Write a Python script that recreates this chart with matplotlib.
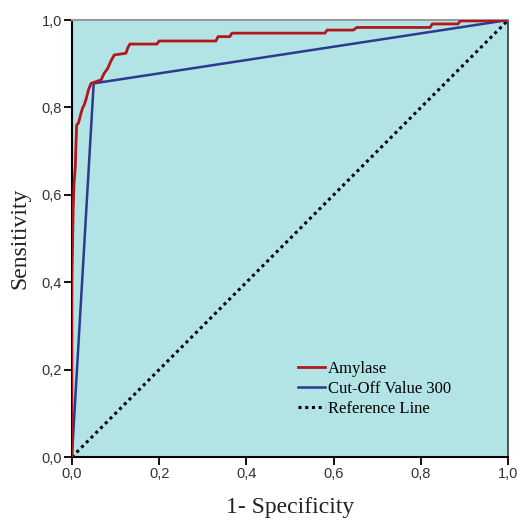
import matplotlib
matplotlib.use("Agg")
import matplotlib.pyplot as plt
from matplotlib.ticker import FuncFormatter

# ROC curve for Amylase (1 - specificity, sensitivity)
amylase_fpr = [0.0, 0.0, 0.003, 0.005, 0.008, 0.009, 0.011, 0.015, 0.021, 0.025, 0.028,
               0.032, 0.038, 0.044, 0.067, 0.074, 0.082, 0.089, 0.097, 0.124, 0.128,
               0.133, 0.195, 0.200, 0.330, 0.335, 0.362, 0.367, 0.580, 0.585, 0.645,
               0.653, 0.821, 0.826, 0.885, 0.890, 0.950, 1.0]
amylase_tpr = [0.0, 0.40, 0.565, 0.627, 0.664, 0.702, 0.760, 0.764, 0.787, 0.800, 0.805,
               0.817, 0.840, 0.855, 0.863, 0.878, 0.889, 0.905, 0.920, 0.924, 0.936,
               0.945, 0.945, 0.952, 0.952, 0.962, 0.962, 0.970, 0.970, 0.977, 0.977,
               0.983, 0.983, 0.991, 0.991, 0.998, 0.998, 1.0]

# Cut-off value 300 (single operating point)
cutoff_fpr = [0.0, 0.050, 1.0]
cutoff_tpr = [0.0, 0.855, 1.0]

# Reference line
ref_fpr = [0.0, 1.0]
ref_tpr = [0.0, 1.0]

ticks = [0.0, 0.2, 0.4, 0.6, 0.8, 1.0]
labels = ["Amylase", "Cut-Off Value 300", "Reference Line"]

fig = plt.figure(figsize=(5.17, 5.20), dpi=100)
ax = fig.add_axes([0.139, 0.121, 0.844, 0.8405])
ax.set_facecolor("#b2e4e6")

ax.plot(ref_fpr, ref_tpr, color="black", linestyle=(0, (1, 1.2)), linewidth=2.2,
        label=labels[2], zorder=2)
ax.plot(cutoff_fpr, cutoff_tpr, color="#2e3a8c", linewidth=1.8, label=labels[1], zorder=3)
ax.plot(amylase_fpr, amylase_tpr, color="#b3161c", linewidth=2.0, label=labels[0], zorder=4)

ax.set_xlim(0, 1)
ax.set_ylim(0, 1)
ax.set_xticks(ticks)
ax.set_yticks(ticks)
fmt = FuncFormatter(lambda v, p: f"{v:.1f}".replace(".", ","))
ax.xaxis.set_major_formatter(fmt)
ax.yaxis.set_major_formatter(fmt)
ax.tick_params(axis="both", direction="out", length=6, width=1.3, labelsize=10.5,
               labelcolor="#333333", pad=1)
for lab in ax.get_xticklabels() + ax.get_yticklabels():
    lab.set_family("Liberation Sans")

for s in ["left", "bottom"]:
    ax.spines[s].set_color("black")
    ax.spines[s].set_linewidth(1.5)
ax.spines["top"].set_color("#999999")
ax.spines["top"].set_linewidth(1.5)
ax.spines["right"].set_color("#444444")
ax.spines["right"].set_linewidth(1.3)

ax.set_xlabel("1- Specificity", family="Liberation Serif", fontsize=17, labelpad=12,
              color="#222222")
ax.set_ylabel("Sensitivity", family="Liberation Serif", fontsize=17, labelpad=8,
              color="#222222")

handles, labs = ax.get_legend_handles_labels()
order = [labs.index(l) for l in labels]
leg = ax.legend([handles[i] for i in order], [labs[i] for i in order],
                loc="upper left", bbox_to_anchor=(0.50, 0.24), frameon=False,
                prop={"family": "Liberation Serif", "size": 12},
                handlelength=1.6, handletextpad=0.15, labelspacing=0.25, borderpad=0)

fig.savefig("out.png", dpi=100)
